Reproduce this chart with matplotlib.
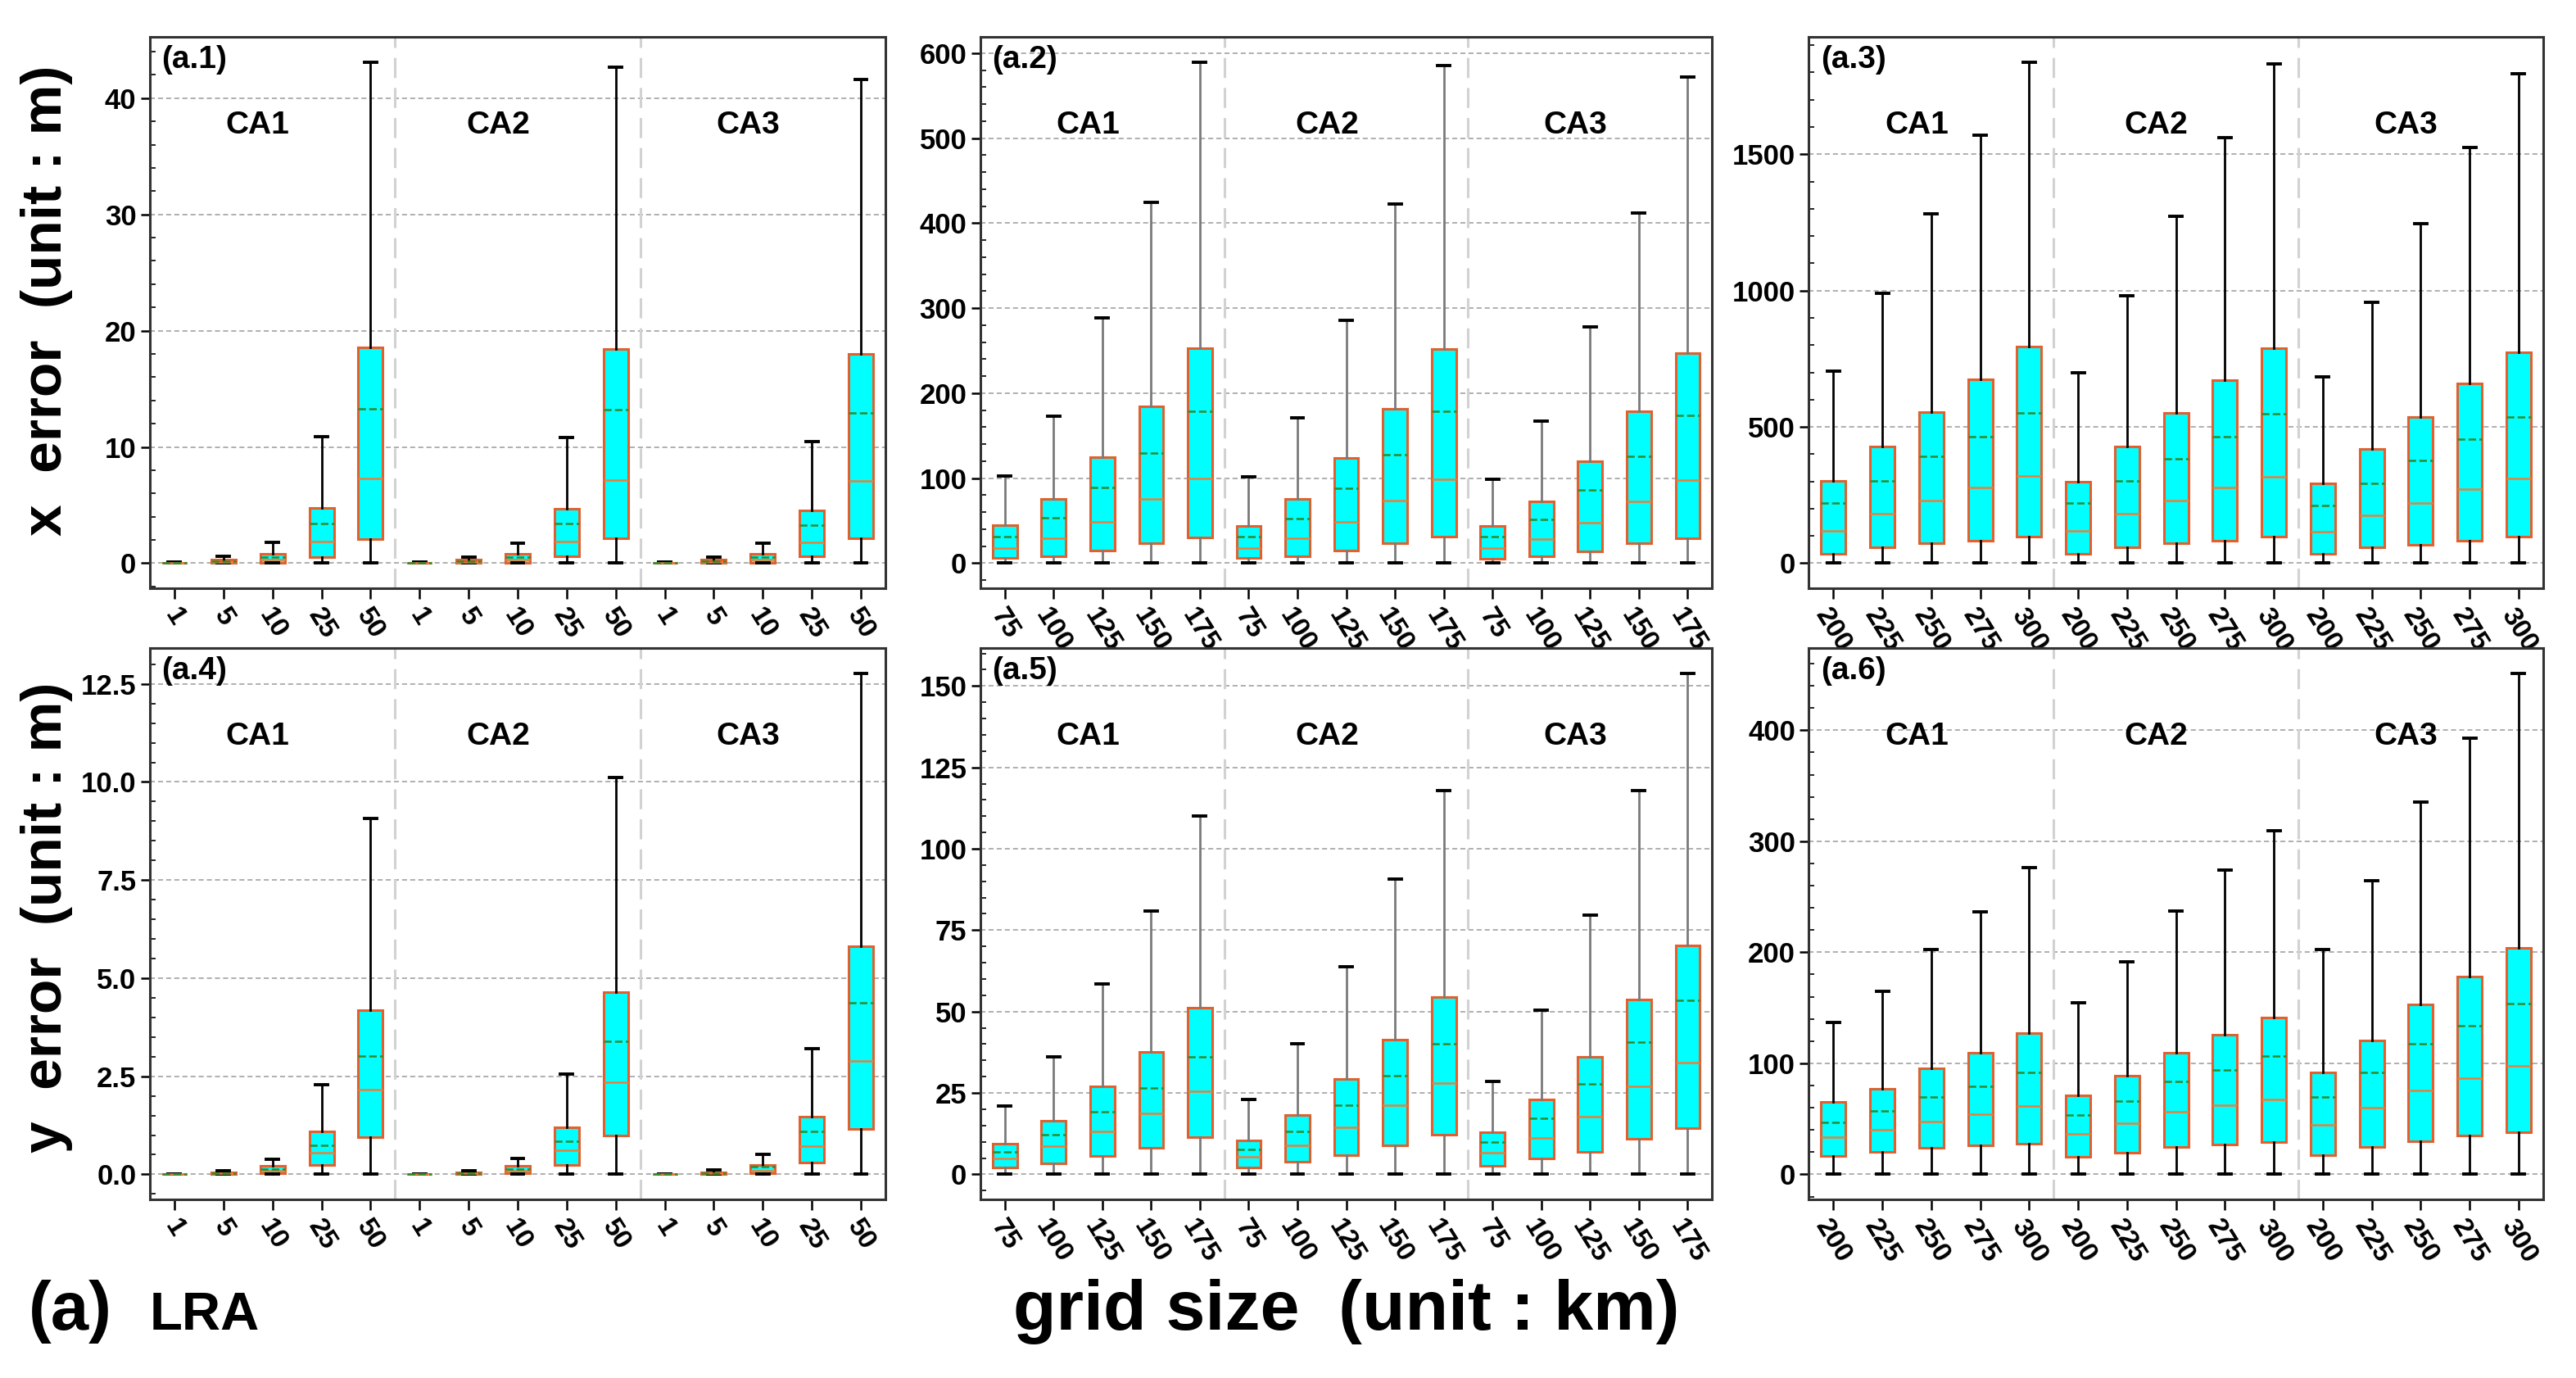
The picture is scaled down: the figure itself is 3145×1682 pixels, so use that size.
import matplotlib
matplotlib.use('Agg')
import matplotlib.pyplot as plt
from matplotlib.ticker import AutoMinorLocator, MultipleLocator

plt.rcParams['font.family'] = ['Liberation Sans', 'DejaVu Sans']

groups = ['CA1', 'CA2', 'CA3']
grid_a1 = ['1', '5', '10', '25', '50']
grid_a2 = ['75', '100', '125', '150', '175']
grid_a3 = ['200', '225', '250', '275', '300']

# (a.1) x error, small grids
a1_q1 = [0.0, 0.02, 0.05, 0.54, 2.09, 0.0, 0.02, 0.05, 0.57, 2.16, 0.0, 0.02, 0.05, 0.57, 2.16]
a1_med = [0.01, 0.1, 0.3, 1.89, 7.26, 0.01, 0.1, 0.3, 1.89, 7.16, 0.01, 0.1, 0.3, 1.76, 7.06]
a1_mean = [0.02, 0.15, 0.55, 3.41, 13.3, 0.02, 0.15, 0.55, 3.41, 13.2, 0.02, 0.15, 0.55, 3.24, 12.9]
a1_q3 = [0.04, 0.3, 0.8, 4.76, 18.55, 0.04, 0.3, 0.8, 4.7, 18.4, 0.04, 0.3, 0.78, 4.56, 17.97]
a1_hi = [0.07, 0.57, 1.76, 10.88, 43.1, 0.07, 0.55, 1.75, 10.8, 42.7, 0.07, 0.55, 1.69, 10.47, 41.6]

# (a.2) x error, medium grids
a2_q1 = [5.8, 8.1, 15.3, 24.0, 30.7, 5.8, 8.1, 15.3, 23.5, 31.2, 5.3, 8.1, 14.4, 23.5, 29.7]
a2_med = [18.2, 29.7, 48.9, 75.2, 100.2, 18.2, 29.7, 48.9, 73.8, 99.2, 18.2, 28.8, 47.9, 72.8, 97.8]
a2_mean = [31.6, 53.7, 88.7, 129.4, 179.2, 31.6, 52.7, 88.2, 128.0, 178.3, 31.6, 51.8, 86.3, 125.6, 174.4]
a2_q3 = [45.0, 75.2, 124.6, 184.5, 252.5, 44.0, 75.2, 123.6, 182.0, 252.0, 44.0, 72.8, 119.8, 178.3, 247.3]
a2_hi = [102.6, 172.5, 288.5, 425.0, 589.5, 101.6, 171.0, 286.0, 422.7, 585.6, 99.2, 167.3, 278.0, 411.7, 572.2]

# (a.3) x error, large grids
a3_q1 = [33, 58, 73, 84, 99, 33, 58, 73, 84, 99, 33, 57, 69, 84, 99]
a3_med = [118, 182, 230, 277, 320, 118, 182, 230, 277, 317, 115, 175, 220, 272, 310]
a3_mean = [220, 302, 392, 464, 552, 220, 302, 384, 464, 549, 213, 292, 377, 455, 537]
a3_q3 = [302, 429, 553, 676, 795, 299, 429, 552, 673, 788, 292, 418, 537, 659, 775]
a3_hi = [706, 990, 1281, 1570, 1838, 698, 982, 1274, 1560, 1832, 684, 957, 1245, 1525, 1796]

# (a.4) y error, small grids
a4_q1 = [0.0, 0.005, 0.02, 0.23, 0.94, 0.0, 0.005, 0.02, 0.23, 0.98, 0.0, 0.005, 0.02, 0.3, 1.15]
a4_med = [0.0, 0.02, 0.085, 0.55, 2.15, 0.0, 0.02, 0.085, 0.61, 2.34, 0.0, 0.02, 0.09, 0.72, 2.9]
a4_mean = [0.0, 0.03, 0.13, 0.75, 3.02, 0.0, 0.03, 0.13, 0.85, 3.39, 0.0, 0.03, 0.19, 1.09, 4.37]
a4_q3 = [0.005, 0.05, 0.21, 1.09, 4.19, 0.005, 0.05, 0.21, 1.19, 4.64, 0.005, 0.06, 0.23, 1.47, 5.81]
a4_hi = [0.01, 0.1, 0.39, 2.29, 9.08, 0.01, 0.1, 0.4, 2.56, 10.12, 0.01, 0.11, 0.51, 3.2, 12.77]

# (a.5) y error, medium grids
a5_q1 = [2.0, 3.3, 5.6, 8.2, 11.5, 2.1, 4.0, 6.0, 8.8, 12.3, 2.6, 4.8, 7.0, 10.9, 14.3]
a5_med = [5.0, 8.7, 13.1, 18.8, 25.6, 5.4, 9.0, 14.5, 21.3, 28.0, 6.6, 11.1, 17.6, 27.0, 34.4]
a5_mean = [6.8, 12.1, 19.2, 26.5, 36.2, 7.7, 13.3, 21.3, 30.4, 40.2, 9.9, 17.2, 27.8, 40.5, 53.4]
a5_q3 = [9.4, 16.4, 27.0, 37.5, 51.1, 10.3, 18.2, 29.2, 41.4, 54.4, 13.0, 23.1, 36.2, 53.7, 70.2]
a5_hi = [20.9, 36.2, 58.6, 81.0, 110.1, 22.9, 40.0, 63.7, 90.6, 117.8, 28.6, 50.4, 79.7, 117.8, 153.9]

# (a.6) y error, large grids
a6_q1 = [16.5, 20.1, 24.0, 26.2, 27.6, 15.8, 19.4, 24.7, 27.2, 29.0, 17.6, 24.7, 30.1, 34.8, 38.0]
a6_med = [33.7, 39.8, 47.7, 54.1, 61.6, 36.6, 45.9, 56.3, 62.4, 67.7, 44.4, 59.9, 75.6, 86.7, 97.5]
a6_mean = [47.0, 57.0, 69.5, 79.6, 91.8, 53.4, 66.0, 83.9, 94.3, 106.5, 69.5, 91.8, 117.9, 134.0, 153.8]
a6_q3 = [64.9, 77.4, 95.7, 109.7, 126.9, 71.3, 88.5, 109.7, 125.8, 141.2, 91.8, 120.8, 152.7, 177.8, 203.9]
a6_hi = [136.6, 165.2, 202.2, 236.2, 276.3, 154.5, 191.4, 236.9, 273.8, 309.7, 202.2, 264.2, 335.5, 392.8, 451.3]


def box_stats(q1, med, mean, q3, hi):
    stats = []
    for a, b, c, d, e in zip(q1, med, mean, q3, hi):
        stats.append(dict(q1=a, med=b, mean=c, q3=d, whislo=0.0, whishi=e, fliers=[]))
    return stats


panels = [
    ('(a.1)', grid_a1, box_stats(a1_q1, a1_med, a1_mean, a1_q3, a1_hi), 10, 'black'),
    ('(a.2)', grid_a2, box_stats(a2_q1, a2_med, a2_mean, a2_q3, a2_hi), 100, '#7a7a7a'),
    ('(a.3)', grid_a3, box_stats(a3_q1, a3_med, a3_mean, a3_q3, a3_hi), 500, 'black'),
    ('(a.4)', grid_a1, box_stats(a4_q1, a4_med, a4_mean, a4_q3, a4_hi), 2.5, 'black'),
    ('(a.5)', grid_a2, box_stats(a5_q1, a5_med, a5_mean, a5_q3, a5_hi), 25, '#7a7a7a'),
    ('(a.6)', grid_a3, box_stats(a6_q1, a6_med, a6_mean, a6_q3, a6_hi), 100, 'black'),
]

fig = plt.figure(figsize=(31.45, 16.82), dpi=100)

lefts = [0.0582, 0.3806, 0.7022]
widths = [0.2855, 0.284, 0.285]
bottoms = [0.5731, 0.1296]
height = 0.400

for i, (tag, xlab, stats, step, wcol) in enumerate(panels):
    row, col = divmod(i, 3)
    ax = fig.add_axes([lefts[col], bottoms[row], widths[col], height])
    ax.bxp(stats, positions=range(1, 16), widths=0.5, patch_artist=True,
           showmeans=True, meanline=True, manage_ticks=False,
           boxprops=dict(facecolor='#00FFFF', edgecolor='#E2602E', linewidth=2.2),
           medianprops=dict(color='#E8803A', linewidth=1.8),
           meanprops=dict(color='#2E8B2E', linestyle='--', linewidth=1.8),
           whiskerprops=dict(color=wcol, linewidth=2.0),
           capprops=dict(color='black', linewidth=2.8))
    ax.set_xlim(0.5, 15.5)
    for xs in (5.5, 10.5):
        ax.axvline(xs, color='#d2d2d2', linestyle=(0, (8, 4)), linewidth=2.2, zorder=1)

    ax.yaxis.set_major_locator(MultipleLocator(step))
    ax.yaxis.set_minor_locator(AutoMinorLocator(5))
    ax.yaxis.grid(True, which='major', linestyle=(0, (4, 2.5)), color='#9a9a9a', linewidth=1.1)
    ax.set_axisbelow(True)
    if tag == '(a.4)':
        ax.yaxis.set_major_formatter(plt.FormatStrFormatter('%.1f'))

    ax.set_xticks(range(1, 16))
    ax.set_xticklabels(xlab * 3, rotation=-58, fontsize=24, fontweight='bold')
    for lab in ax.get_yticklabels():
        lab.set_fontsize(25)
        lab.set_fontweight('bold')
    ax.tick_params(axis='y', which='major', direction='out', length=8, width=1.8, pad=4)
    ax.tick_params(axis='y', which='minor', direction='in', length=5, width=1.2)
    ax.tick_params(axis='x', which='major', direction='out', length=9, width=1.8, pad=5)
    for sp in ax.spines.values():
        sp.set_color('#333333')
        sp.set_linewidth(2.2)

    ax.text(0.016, 0.985, tag, transform=ax.transAxes, ha='left', va='top',
            fontsize=28, fontweight='bold')
    for gx, g in zip((2.7, 7.6, 12.7), groups):
        ax.text(gx, 0.84, g, transform=ax.get_xaxis_transform(), ha='center',
                va='center', fontsize=28, fontweight='bold')

fig.text(0.018, 0.782, 'x  error  (unit : m)', rotation=90, ha='center', va='center',
         fontsize=50, fontweight='bold')
fig.text(0.018, 0.334, 'y  error  (unit : m)', rotation=90, ha='center', va='center',
         fontsize=50, fontweight='bold')
fig.text(0.011, 0.035, '(a)', ha='left', va='baseline', fontsize=60, fontweight='bold')
fig.text(0.058, 0.035, 'LRA', ha='left', va='baseline', fontsize=47, fontweight='bold')
fig.text(0.5225, 0.035, 'grid size  (unit : km)', ha='center', va='baseline',
         fontsize=62, fontweight='bold')

fig.savefig('out.png', dpi=100)
